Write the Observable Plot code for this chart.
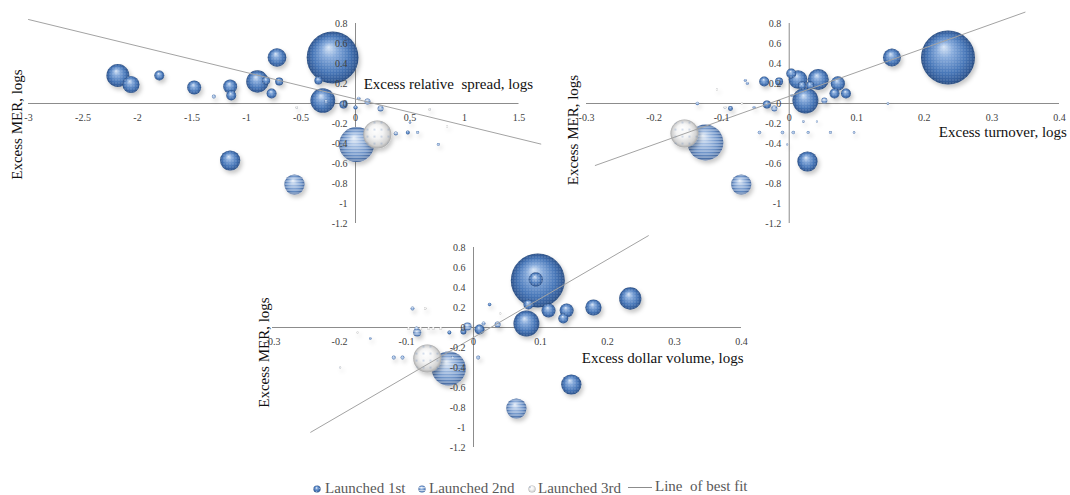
<!DOCTYPE html>
<html><head><meta charset="utf-8">
<script src="https://cdn.jsdelivr.net/npm/d3@7"></script>
<script src="https://cdn.jsdelivr.net/npm/@observablehq/plot@0.6"></script>
<style>
body{margin:0;background:#fff;}
#chart{position:relative;width:1070px;height:495px;overflow:hidden;font-family:"Liberation Serif","Times New Roman",serif;}
.leg{position:absolute;font-size:15px;color:#595959;white-space:pre;line-height:15px;}
.bul{position:absolute;}
</style></head><body>
<svg width="0" height="0" style="position:absolute">
<defs>
<radialGradient id="sphere1" cx="0.5" cy="0.5" r="0.5" fx="0.42" fy="0.3">
<stop offset="0" stop-color="#d8e6f7"/><stop offset="0.3" stop-color="#86aadb"/><stop offset="0.7" stop-color="#4877b8"/><stop offset="0.92" stop-color="#335c98"/><stop offset="1" stop-color="#284a7c"/>
</radialGradient>
<radialGradient id="sphere2" cx="0.5" cy="0.5" r="0.5" fx="0.42" fy="0.3">
<stop offset="0" stop-color="#e4edf8"/><stop offset="0.35" stop-color="#9ab7df"/><stop offset="0.75" stop-color="#5e87c1"/><stop offset="1" stop-color="#375c95"/>
</radialGradient>
<radialGradient id="sphere3" cx="0.5" cy="0.5" r="0.5" fx="0.42" fy="0.3">
<stop offset="0" stop-color="#ffffff"/><stop offset="0.5" stop-color="#f4f4f4"/><stop offset="0.85" stop-color="#d2d2d2"/><stop offset="1" stop-color="#a9a9a9"/>
</radialGradient>
<pattern id="tex1" width="3" height="3" patternUnits="userSpaceOnUse"><circle cx="1.5" cy="1.5" r="0.6" fill="#fff" fill-opacity="0.45"/></pattern>
<pattern id="tex2" width="4" height="3" patternUnits="userSpaceOnUse"><rect width="4" height="1.2" fill="#fff" fill-opacity="0.6"/></pattern>
<pattern id="tex3" width="7" height="7" patternUnits="userSpaceOnUse"><circle cx="3" cy="3" r="0.6" fill="#4a74b0"/></pattern>
<filter id="sh" x="-30%" y="-30%" width="170%" height="170%"><feDropShadow dx="2" dy="3" stdDeviation="2" flood-color="#000" flood-opacity="0.22"/></filter>
</defs></svg>
<div id="chart"></div>
<script>
// ---- data ----
const yTicks = [0.8, 0.6, 0.4, 0.2, 0, -0.2, -0.4, -0.6, -0.8, -1, -1.2];
const spreadTicks = [-3, -2.5, -2, -1.5, -1, -0.5, 0, 0.5, 1, 1.5];
const turnoverTicks = [-0.3, -0.2, -0.1, 0, 0.1, 0.2, 0.3, 0.4];
const volumeTicks = [-0.3, -0.2, -0.1, 0, 0.1, 0.2, 0.3, 0.4];
const groupNames = ["Launched 1st", "Launched 2nd", "Launched 3rd"];
// fit: [slope, intercept, x from, x to]
const spreadFit = [-0.265, 0.045, -3, 1.7];
const turnoverFit = [2.41, 0.072, -0.287, 0.349];
const volumeFit = [3.9, -0.1, -0.243, 0.261];
// points: [x, excess MER, size, group]
const spreadPoints = [
[-0.21,0.46,92,1],[-0.72,0.46,12,1],[-2.18,0.28,18,1],[-2.06,0.19,10,1],[-1.80,0.28,3.4,1],
[-1.48,0.16,6.7,1],[-1.30,0.07,0.5,2],[-1.15,0.17,6.7,1],[-1.14,0.08,3.4,1],[-0.90,0.22,17,1],
[-0.82,0.23,2.2,1],[-0.70,0.22,2.2,1],[-0.77,0.10,3.4,1],[-0.34,0.23,2.2,1],[-0.30,0.03,21,1],
[-0.27,0.02,0.5,2],[-0.11,-0.01,2.2,1],[0.0,-0.04,0.6,1],[0.03,0.05,0.4,2],[0.11,0.02,1.2,2],
[0.23,-0.05,1.2,2],[-0.54,-0.04,0.2,3],[0.68,-0.06,0.2,3],[0.01,-0.41,42,2],[0.20,-0.31,27,3],
[0.37,-0.30,0.6,2],[0.48,-0.29,0.5,1],[0.57,-0.29,0.3,2],[0.76,-0.41,0.3,2],[0.50,-0.19,0.2,2],
[0.84,-0.23,0.15,3],[-1.15,-0.57,14,1],[-0.56,-0.81,14,2]
];
const turnoverPoints = [
[0.235,0.46,100,1],[0.152,0.46,11,1],[0.003,0.30,3.4,1],[0.013,0.24,12,1],[0.043,0.24,15,1],
[0.072,0.20,7,1],[0.067,0.10,3.4,1],[0.084,0.10,3.4,1],[0.024,0.03,23,1],[0.019,0.18,2.2,1],
[0.031,0.18,2.2,1],[-0.037,0.22,3.4,1],[-0.015,0.22,2.2,1],[-0.033,-0.01,2.2,1],[-0.022,-0.05,1.2,2],
[-0.087,-0.05,0.8,1],[-0.052,-0.04,0.3,2],[-0.136,0.0,0.4,2],[0.052,0.03,1.2,2],[0.004,0.08,0.3,2],
[-0.065,0.23,0.3,2],[-0.062,0.20,0.3,2],[-0.107,0.14,0.15,3],[-0.07,0.0,0.15,3],[-0.095,-0.04,0.3,3],
[0.146,0.0,0.2,2],[-0.044,-0.29,0.4,2],[-0.010,-0.29,0.4,2],[0.006,-0.29,0.4,2],[0.028,-0.29,0.3,2],
[0.061,-0.29,0.3,2],[0.096,-0.29,0.2,2],[0.021,-0.18,0.2,2],[0.041,-0.18,0.15,2],[-0.003,-0.41,0.15,2],
[-0.124,-0.39,44,2],[-0.155,-0.30,27,3],[0.027,-0.58,14,1],[-0.071,-0.81,14,2]
];
const volumePoints = [
[0.096,0.47,100,1],[0.093,0.48,7,1],[0.234,0.29,17,1],[0.179,0.20,9,1],[0.139,0.17,6.7,1],
[0.134,0.09,3.4,1],[0.112,0.17,6.7,1],[0.082,0.23,3.4,1],[0.079,0.04,23,1],[0.009,-0.02,3.4,1],
[-0.009,0.01,2.2,2],[-0.015,-0.04,1.2,1],[-0.036,-0.05,0.5,1],[-0.084,-0.05,2.2,2],[-0.085,-0.01,0.5,2],
[0.036,0.03,1.2,2],[0.015,0.04,0.5,2],[0.024,0.23,0.4,1],[-0.091,0.19,0.5,2],[-0.072,0.19,0.2,3],
[0.040,0.14,0.15,3],[-0.119,-0.30,0.5,2],[-0.106,-0.30,0.5,2],[-0.031,-0.30,0.3,2],[0.007,-0.30,0.5,2],
[-0.154,-0.11,0.2,2],[-0.173,-0.05,0.15,3],[-0.199,-0.40,0.15,3],[-0.097,-0.01,0.3,3],[-0.079,-0.01,0.3,3],
[-0.067,-0.01,0.3,3],[-0.060,-0.01,0.3,3],[-0.049,-0.01,0.3,3],[-0.037,-0.41,40,2],[-0.069,-0.31,27,3],
[0.146,-0.57,14,1],[0.064,-0.81,14,2]
];

const FONT = "Liberation Serif, Times New Roman, serif";

function panel(o) {
  const [slope, icpt, fx0, fx1] = o.fit;
  const fitLine = [fx0, fx1].map(x => ({x, y: icpt + slope * x}));
  const marks = [
    Plot.ruleY([0], {x1: o.xDomain[0], x2: o.xDomain[1], stroke: "#8c8c8c", strokeWidth: 1}),
    Plot.ruleX([0], {y1: -1.2, y2: 0.8, stroke: "#8c8c8c", strokeWidth: 1})
  ];
  for (const g of [1, 2, 3]) {
    const d = o.points.filter(p => p[3] === g);
    const base = {x: p => p[0], y: p => p[1], r: p => p[2], stroke: "none"};
    marks.push(Plot.dot(d, {...base, fill: `url(#sphere${g})`}));
    marks.push(Plot.dot(d, {...base, fill: `url(#tex${g})`}));
  }
  marks.push(Plot.line(fitLine, {x: "x", y: "y", stroke: "#a3a3a3", strokeWidth: 1}));
  marks.push(Plot.text(o.xTicks, {x: d => d, y: 0, text: d => String(d), dy: 14, fontSize: 10, fill: "#404040", fontFamily: FONT}));
  marks.push(Plot.text(yTicks, {x: 0, y: d => d, text: d => String(d), dx: -8, textAnchor: "end", fontSize: 10, fill: "#404040", fontFamily: FONT}));
  marks.push(Plot.text([o.xTitle], {x: o.xTitleAt[0], y: o.xTitleAt[1], text: d => d, textAnchor: "end", fontSize: 15, fill: "#111", fontFamily: FONT}));
  marks.push(Plot.text(["Excess MER, logs"], {x: o.yTitleAt[0], y: o.yTitleAt[1], text: d => d, rotate: -90, fontSize: 15, fill: "#111", fontFamily: FONT}));
  const svg = Plot.plot({
    width: 1070, height: 495,
    marginLeft: o.px[0], marginRight: 1070 - o.px[1],
    marginTop: o.py[0], marginBottom: 495 - o.py[1],
    x: {domain: o.xDomain, axis: null},
    y: {domain: [-1.2, 0.8], axis: null},
    r: {type: "sqrt", domain: [0, 100], range: [0, 27]},
    marks
  });
  const s = d3.select(svg);
  s.style("position", "absolute").style("left", "0px").style("top", "0px")
   .style("background", "transparent").style("overflow", "visible").style("max-width", "none");
  s.selectAll('g[fill^="url(#sphere"]').attr("filter", "url(#sh)");
  return svg;
}

const chart = document.getElementById("chart");
chart.appendChild(panel({points: spreadPoints, fit: spreadFit, xTicks: spreadTicks, xDomain: [-3, 1.5],
  px: [28, 518.5], py: [23, 223], xTitle: "Excess relative  spread, logs", xTitleAt: [1.63, 0.19], yTitleAt: [-3.1, -0.21]}));
chart.appendChild(panel({points: turnoverPoints, fit: turnoverFit, xTicks: turnoverTicks, xDomain: [-0.3, 0.4],
  px: [586, 1059], py: [23, 223], xTitle: "Excess turnover, logs", xTitleAt: [0.411, -0.29], yTitleAt: [-0.32, -0.265]}));
chart.appendChild(panel({points: volumePoints, fit: volumeFit, xTicks: volumeTicks, xDomain: [-0.3, 0.4],
  px: [272, 741], py: [247, 447], xTitle: "Excess dollar volume, logs", xTitleAt: [0.403, -0.31], yTitleAt: [-0.313, -0.25]}));

// legend
const legPos = [[317, 325], [422, 429], [532, 538]];
groupNames.forEach((name, i) => {
  const [bx, tx] = legPos[i];
  const b = document.createElementNS("http://www.w3.org/2000/svg", "svg");
  b.setAttribute("width", 10); b.setAttribute("height", 10); b.setAttribute("class", "bul");
  b.style.left = (bx - 5) + "px"; b.style.top = "484px";
  b.innerHTML = `<circle cx="5" cy="5" r="3.6" fill="url(#sphere${i + 1})"/><circle cx="5" cy="5" r="3.6" fill="url(#tex${i + 1})"/>`;
  chart.appendChild(b);
  const t = document.createElement("div");
  t.className = "leg"; t.textContent = name; t.style.left = tx + "px"; t.style.top = "481px";
  chart.appendChild(t);
});
const ln = document.createElement("div");
ln.style.cssText = "position:absolute;left:628px;top:487px;width:24px;height:1px;background:#8c8c8c;";
chart.appendChild(ln);
const lt = document.createElement("div");
lt.className = "leg"; lt.textContent = "Line  of best fit"; lt.style.left = "655px"; lt.style.top = "479px";
chart.appendChild(lt);
</script>
</body></html>
